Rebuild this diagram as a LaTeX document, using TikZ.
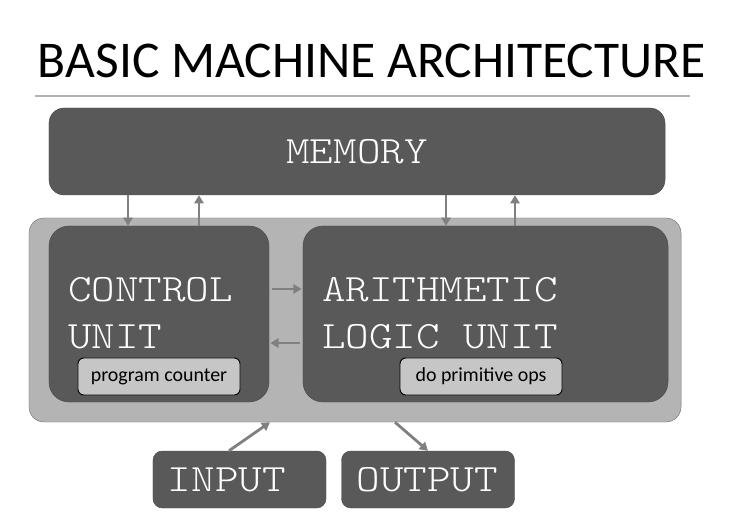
\documentclass[tikz,border=0pt]{standalone}
\usepackage{fontspec}
\setmainfont{Carlito}
\usetikzlibrary{arrows.meta}

\definecolor{unitgray}{HTML}{595959}
\definecolor{panelgray}{HTML}{B4B4B4}
\definecolor{flowgray}{HTML}{808080}
\definecolor{taggray}{HTML}{C6C6C6}

\newcommand{\unitfont}{\ttfamily\fontseries{l}\fontsize{33}{40}\selectfont}
\newcommand{\wide}[1]{\scalebox{1.16}[1]{#1}}

\begin{document}
\begin{tikzpicture}[x=0.03cm,y=-0.03cm,
    unit/.style={draw=black!70, fill=unitgray, text=white, inner sep=0pt},
    tag/.style={draw=black, thick, fill=taggray, rounded corners=5pt, minimum width=4.86cm, minimum height=1.11cm, font=\fontsize{17}{19}\selectfont},
    io/.style={unit, rounded corners=8pt, minimum width=5.19cm, minimum height=1.71cm, text width=4.29cm, align=left, font=\unitfont},
    flow/.style={draw=flowgray, line width=2.4pt, -{Triangle[length=7pt, width=8pt]}}]
    \useasboundingbox (0,0) rectangle (729,516);

    \node[font=\fontsize{44}{50}\selectfont] (title) at (372,61) {BASIC MACHINE ARCHITECTURE};
    \draw[black!30, line width=1.2pt] (35,96) -- (690,96);

    \node[unit, rounded corners=13pt, minimum width=18.48cm, minimum height=2.61cm, font=\unitfont] (mem) at (357,151.5) {\wide{MEMORY}};

    \node[draw=black!55, fill=panelgray, rounded corners=13pt, minimum width=19.56cm, minimum height=6.12cm] (cpu) at (355,320) {};
    \node[unit, rounded corners=17pt, minimum width=6.6cm, minimum height=5.28cm] (cu) at (159,314) {};
    \node[unit, rounded corners=17pt, minimum width=10.95cm, minimum height=5.28cm] (alu) at (485.5,314) {};

    \node[text=white, font=\unitfont, align=left, anchor=west] (cutext) at (64,313) {\wide{CONTROL}\\\wide{UNIT}};
    \node[text=white, font=\unitfont, align=left, anchor=west] (alutext) at (318,313) {\wide{ARITHMETIC}\\\wide{LOGIC UNIT}};

    \node[tag] (pc) at (159,376.5) {program counter};
    \node[tag] (ops) at (481,376.5) {do primitive ops};

    \node[io] (in) at (239.5,479.5) {\wide{INPUT}};
    \node[io] (out) at (428,479.5) {\wide{OUTPUT}};

    % memory <-> units
    \coordinate (m1) at (128,0);
    \coordinate (m2) at (199,0);
    \coordinate (m3) at (446,0);
    \coordinate (m4) at (515,0);
    \draw[flow] (mem.south -| m1) -- (cu.north -| m1);
    \draw[flow] (cu.north -| m2) -- (mem.south -| m2);
    \draw[flow] (mem.south -| m3) -- (alu.north -| m3);
    \draw[flow] (alu.north -| m4) -- (mem.south -| m4);

    % control <-> alu
    \coordinate (c1) at (0,289);
    \coordinate (c2) at (0,343);
    \draw[flow] ([xshift=2pt]cu.east |- c1) -- ([xshift=-1pt]alu.west |- c1);
    \draw[flow] ([xshift=-2pt]alu.west |- c2) -- ([xshift=1pt]cu.east |- c2);

    % input / output
    \coordinate (i1) at (229,0);
    \coordinate (i2) at (270,0);
    \coordinate (o1) at (395,0);
    \coordinate (o2) at (428,0);
    \draw[flow] (in.north -| i1) -- (cpu.south -| i2);
    \draw[flow] (cpu.south -| o1) -- (out.north -| o2);
\end{tikzpicture}
\end{document}
